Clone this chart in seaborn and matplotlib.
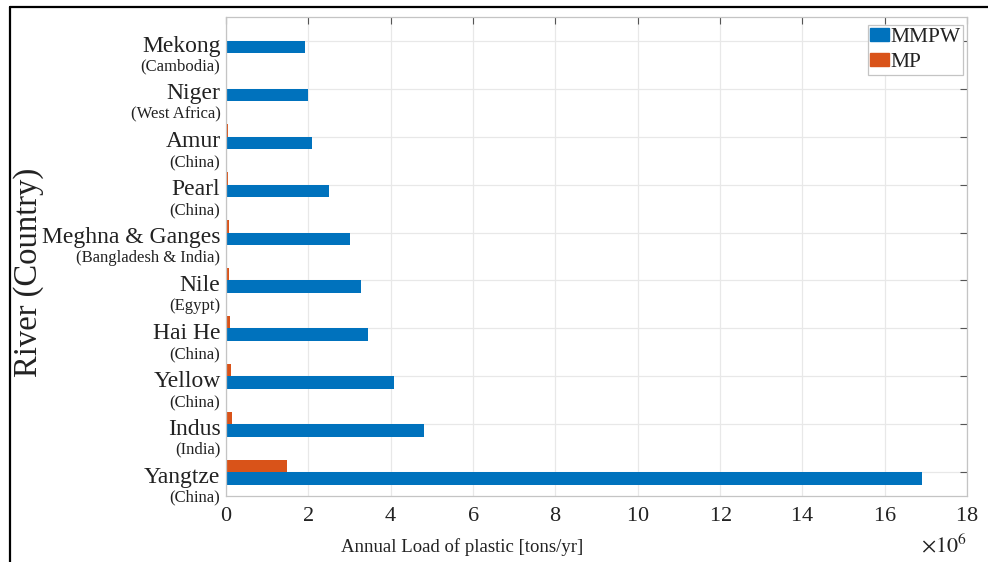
import matplotlib
matplotlib.use("Agg")
import matplotlib.pyplot as plt
import matplotlib.transforms as mtransforms
from matplotlib.ticker import ScalarFormatter, MultipleLocator
from matplotlib.lines import Line2D
import seaborn as sns
import pandas as pd

# River names (top to bottom), their countries, and annual plastic loads [tons/yr]
rivers = ["Mekong", "Niger", "Amur", "Pearl", "Meghna & Ganges",
          "Nile", "Hai He", "Yellow", "Indus", "Yangtze"]
countries = ["(Cambodia)", "(West Africa)", "(China)", "(China)",
             "(Bangladesh & India)", "(Egypt)", "(China)", "(China)",
             "(India)", "(China)"]
mmpw = [1.92e6, 1.99e6, 2.08e6, 2.51e6, 3.02e6,
        3.28e6, 3.45e6, 4.09e6, 4.82e6, 16.9e6]
mp = [0.03e6, 0.035e6, 0.04e6, 0.05e6, 0.065e6,
      0.07e6, 0.09e6, 0.11e6, 0.15e6, 1.47e6]
series = ["MMPW", "MP"]
colors = {"MMPW": "#0072BD", "MP": "#D95319"}

df = pd.DataFrame({
    "river": rivers * 2,
    "load": mmpw + mp,
    "series": ["MMPW"] * len(rivers) + ["MP"] * len(rivers),
})

sns.set_theme(style="white")
plt.rcParams["font.family"] = ["Liberation Serif", "DejaVu Serif"]
plt.rcParams["mathtext.fontset"] = "stix"

text_col = "#222222"
fig = plt.figure(figsize=(9.88, 5.62), dpi=100)
ax = fig.add_axes([226 / 988, 66 / 562, 741 / 988, 479 / 562])

sns.barplot(data=df, y="river", x="load", hue="series", order=rivers,
            hue_order=["MP", "MMPW"], palette=colors, width=0.52,
            orient="h", saturation=1, linewidth=0, ax=ax, legend=False)

ax.set_xlim(0, 18e6)
ax.xaxis.set_major_locator(MultipleLocator(2e6))
fmt = ScalarFormatter(useMathText=True)
fmt.set_powerlimits((6, 6))
ax.xaxis.set_major_formatter(fmt)
ax.xaxis.offsetText.set_visible(False)
ax.text(1.0, -38 / 479, r"$\times10^{6}$", transform=ax.transAxes,
        ha="right", va="top", fontsize=16, color=text_col)

grid_col = "#e8e8e8"
ax.grid(True, color=grid_col, linewidth=0.9)
ax.set_axisbelow(True)
for sp in ax.spines.values():
    sp.set_visible(True)
    sp.set_color("#c4c4c4")
    sp.set_linewidth(0.9)

ax.tick_params(axis="both", which="both", direction="in", length=5,
               width=0.8, color="#555555", top=True, right=True)
ax.tick_params(axis="x", labelsize=16, pad=8, labelcolor=text_col)
ax.tick_params(axis="y", labelleft=False)

# River name on each tick with its country on the line beneath
base = mtransforms.blended_transform_factory(ax.transAxes, ax.transData)
name_tr = mtransforms.offset_copy(base, fig=fig, x=-4, y=-7.6, units="points")
sub_tr = mtransforms.offset_copy(base, fig=fig, x=-4, y=-18.5, units="points")
for i, (r, c) in enumerate(zip(rivers, countries)):
    ax.text(0, i, r, transform=name_tr, ha="right", va="baseline",
            fontsize=17, color=text_col)
    ax.text(0, i, c, transform=sub_tr, ha="right", va="center",
            fontsize=12, color=text_col)

ax.set_xlabel("Annual Load of plastic [tons/yr]", fontsize=13.5, color=text_col)
ax.xaxis.set_label_coords((462 - 226) / 741, -51 / 479)
ax.xaxis.label.set_verticalalignment("center")
ax.set_ylabel("River (Country)", fontsize=23.5, color=text_col)
ax.yaxis.set_label_coords((29 - 226) / 741, (496 - 272) / 479)
ax.yaxis.label.set_verticalalignment("center")

handles = [plt.Rectangle((0, 0), 1, 1, color=colors[s]) for s in series]
leg = ax.legend(handles, series, loc="upper right",
                bbox_to_anchor=((963 - 226) / 741, (496 - 25) / 479),
                fontsize=15.5, frameon=True, fancybox=False, framealpha=1,
                edgecolor="#c4c4c4", handlelength=0.85, handleheight=0.55,
                handletextpad=0.08, borderpad=0.12, labelspacing=0.3,
                borderaxespad=0)
leg.get_frame().set_linewidth(0.9)
for t in leg.get_texts():
    t.set_color(text_col)

# Outer frame lines along the left and top of the figure
fig.add_artist(Line2D([9.5 / 988, 9.5 / 988], [0, 1 - 7 / 562],
                      transform=fig.transFigure, color="black", linewidth=1.6))
fig.add_artist(Line2D([9.5 / 988, 1], [1 - 7 / 562, 1 - 7 / 562],
                      transform=fig.transFigure, color="black", linewidth=1.6))

fig.savefig("out.png", dpi=100)
